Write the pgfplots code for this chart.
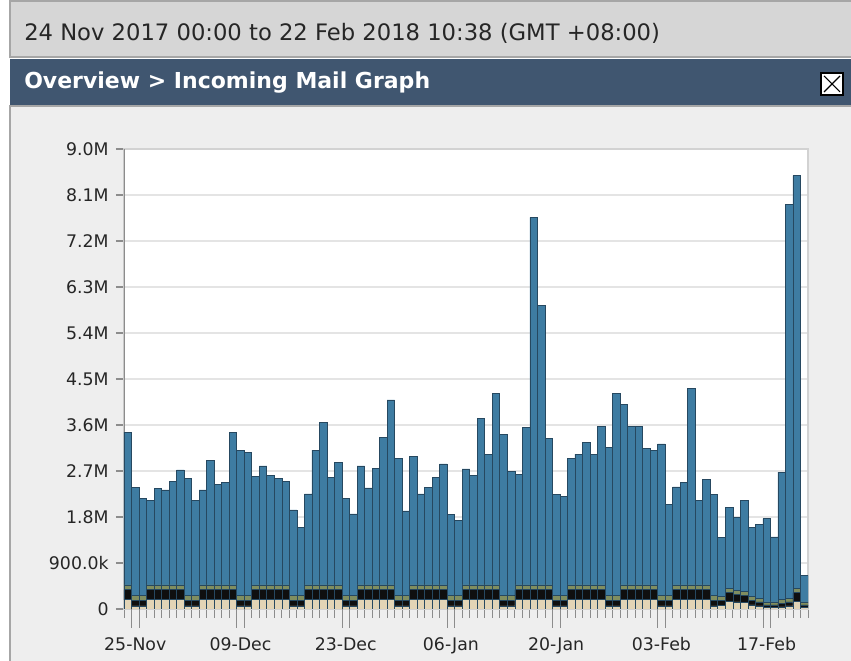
\documentclass[border=0pt]{standalone}
\usepackage{pgfplots}
\pgfplotsset{compat=1.18}
\usepackage{pgfplotstable}
\usepackage{fontspec}
\setmainfont{DejaVu Sans}
\definecolor{barblue}{RGB}{62,124,162}
\definecolor{baredge}{RGB}{38,72,96}
\definecolor{bartan}{RGB}{226,212,182}
\definecolor{barblk}{RGB}{15,15,15}
\definecolor{barolv}{RGB}{128,142,96}
\definecolor{stripgray}{RGB}{214,214,214}
\definecolor{headblue}{RGB}{64,86,112}
\definecolor{panelgray}{RGB}{238,238,238}
\definecolor{gridgray}{RGB}{228,228,228}
\definecolor{axgray}{RGB}{140,140,140}

\pgfplotstableread{
x tan blk olv blu
0 0.18 0.20 0.09 2.99
1 0.06 0.11 0.09 2.12
2 0.06 0.11 0.09 1.91
3 0.18 0.20 0.09 1.66
4 0.18 0.20 0.09 1.89
5 0.18 0.20 0.09 1.86
6 0.18 0.20 0.09 2.03
7 0.18 0.20 0.09 2.25
8 0.06 0.11 0.09 2.30
9 0.06 0.11 0.09 1.87
10 0.18 0.20 0.09 1.86
11 0.18 0.20 0.09 2.43
12 0.18 0.20 0.09 1.97
13 0.18 0.20 0.09 2.01
14 0.18 0.20 0.09 2.99
15 0.06 0.11 0.09 2.85
16 0.06 0.11 0.09 2.81
17 0.18 0.20 0.09 2.12
18 0.18 0.20 0.09 2.33
19 0.18 0.20 0.09 2.14
20 0.18 0.20 0.09 2.09
21 0.18 0.20 0.09 2.02
22 0.06 0.11 0.09 1.68
23 0.06 0.11 0.09 1.34
24 0.18 0.20 0.09 1.78
25 0.18 0.20 0.09 2.64
26 0.18 0.20 0.09 3.18
27 0.18 0.20 0.09 2.11
28 0.18 0.20 0.09 2.39
29 0.06 0.11 0.09 1.91
30 0.06 0.11 0.09 1.60
31 0.18 0.20 0.09 2.33
32 0.18 0.20 0.09 1.90
33 0.18 0.20 0.09 2.28
34 0.18 0.20 0.09 2.88
35 0.18 0.20 0.09 3.62
36 0.06 0.11 0.09 2.69
37 0.06 0.11 0.09 1.66
38 0.18 0.20 0.09 2.52
39 0.18 0.20 0.09 1.78
40 0.18 0.20 0.09 1.91
41 0.18 0.20 0.09 2.10
42 0.18 0.20 0.09 2.37
43 0.06 0.11 0.09 1.59
44 0.06 0.11 0.09 1.48
45 0.18 0.20 0.09 2.27
46 0.18 0.20 0.09 2.15
47 0.18 0.20 0.09 3.26
48 0.18 0.20 0.09 2.56
49 0.18 0.20 0.09 3.74
50 0.06 0.11 0.09 3.15
51 0.06 0.11 0.09 2.43
52 0.18 0.20 0.09 2.17
53 0.18 0.20 0.09 3.08
54 0.18 0.20 0.09 7.19
55 0.18 0.20 0.09 5.47
56 0.18 0.20 0.09 2.87
57 0.06 0.11 0.09 1.98
58 0.06 0.11 0.09 1.94
59 0.18 0.20 0.09 2.48
60 0.18 0.20 0.09 2.56
61 0.18 0.20 0.09 2.79
62 0.18 0.20 0.09 2.56
63 0.18 0.20 0.09 3.11
64 0.06 0.11 0.09 2.90
65 0.06 0.11 0.09 3.95
66 0.18 0.20 0.09 3.54
67 0.18 0.20 0.09 3.11
68 0.18 0.20 0.09 3.10
69 0.18 0.20 0.09 2.67
70 0.18 0.20 0.09 2.64
71 0.06 0.11 0.09 2.97
72 0.06 0.11 0.09 1.79
73 0.18 0.20 0.09 1.92
74 0.18 0.20 0.09 2.00
75 0.18 0.20 0.09 3.84
76 0.18 0.20 0.09 1.66
77 0.18 0.20 0.09 2.07
78 0.06 0.11 0.09 1.98
79 0.07 0.10 0.08 1.15
80 0.15 0.17 0.08 1.58
81 0.14 0.15 0.08 1.42
82 0.13 0.13 0.08 1.79
83 0.08 0.09 0.07 1.35
84 0.06 0.08 0.07 1.45
85 0.03 0.05 0.06 1.63
86 0.03 0.05 0.06 1.27
87 0.04 0.07 0.07 2.50
88 0.06 0.08 0.07 7.70
89 0.15 0.17 0.08 8.08
90 0.03 0.05 0.06 0.51
}\mailtable

\begin{document}
\begin{tikzpicture}[x=0.75pt,y=0.75pt]
\useasboundingbox (0,0) rectangle (851,661);
\fill[white] (0,0) rectangle (851,661);
% date strip
\filldraw[fill=stripgray, draw=gray!70, line width=1pt] (10,604) rectangle (852,660);
\node[anchor=west, inner sep=0pt, font=\fontsize{17}{20}\selectfont, text=black!85] at (24,628) {24 Nov 2017 00:00 to 22 Feb 2018 10:38 (GMT +08:00)};
% header
\fill[headblue] (10,555) rectangle (852,602);
\node[anchor=west, inner sep=0pt, font=\bfseries\fontsize{16.5}{19}\selectfont, text=white] at (24,578) {Overview > Incoming Mail Graph};
\filldraw[fill=white, draw=black, line width=0.8pt] (821,566) rectangle (843,588);
\draw[black, line width=0.8pt] (824,569) -- (840,585) (824,585) -- (840,569);
% panel
\filldraw[fill=panelgray, draw=gray!70, line width=1pt] (10,-2) rectangle (852,555);
\begin{axis}[
  at={(93pt,39pt)}, anchor=south west,
  scale only axis, width=513pt, height=345pt,
  ybar stacked, bar width=1,
  xmin=-0.5, xmax=90.5, ymin=0, ymax=9,
  axis background/.style={fill=white},
  axis line style={draw=gray!35, line width=0.8pt},
  tick align=outside,
  xtick pos=bottom, ytick pos=left,
  ytick={0,0.9,...,9.0},
  yticklabels={0,900.0k,1.8M,2.7M,3.6M,4.5M,5.4M,6.3M,7.2M,8.1M,9.0M},
  ymajorgrids,
  major grid style={draw=gridgray, line width=1.5pt},
  ytick style={draw=axgray, line width=0.8pt},
  major tick length=6pt,
  xtick={1,15,29,43,57,71,85},
  xticklabels={25-Nov,09-Dec,23-Dec,06-Jan,20-Jan,03-Feb,17-Feb},
  xtick style={draw=none},
  minor xtick={-0.5,0.5,...,90.5},
  minor x tick style={draw=axgray, line width=0.6pt},
  minor tick length=6.5pt,
  extra x ticks={0.5,1.5,14.5,15.5,28.5,29.5,42.5,43.5,56.5,57.5,70.5,71.5,84.5,85.5},
  extra x tick labels={},
  extra x tick style={major tick length=14pt, xtick style={draw=axgray, line width=0.6pt}},
  ticklabel style={font=\fontsize{13}{15}\selectfont, text=black!85},
  xticklabel style={yshift=-12pt},
  yticklabel style={xshift=-2pt},
  every axis plot/.append style={draw=baredge, line width=0.5pt},
]
\addplot[fill=bartan] table[x=x,y=tan]{\mailtable};
\addplot[fill=barblk] table[x=x,y=blk]{\mailtable};
\addplot[fill=barolv] table[x=x,y=olv]{\mailtable};
\addplot[fill=barblue] table[x=x,y=blu]{\mailtable};
\draw[axgray, line width=1.5pt] (rel axis cs:0,0) -- (rel axis cs:0,1);
\draw[axgray, line width=1pt] (rel axis cs:0,0) -- (rel axis cs:1,0);
\end{axis}
\end{tikzpicture}
\end{document}
